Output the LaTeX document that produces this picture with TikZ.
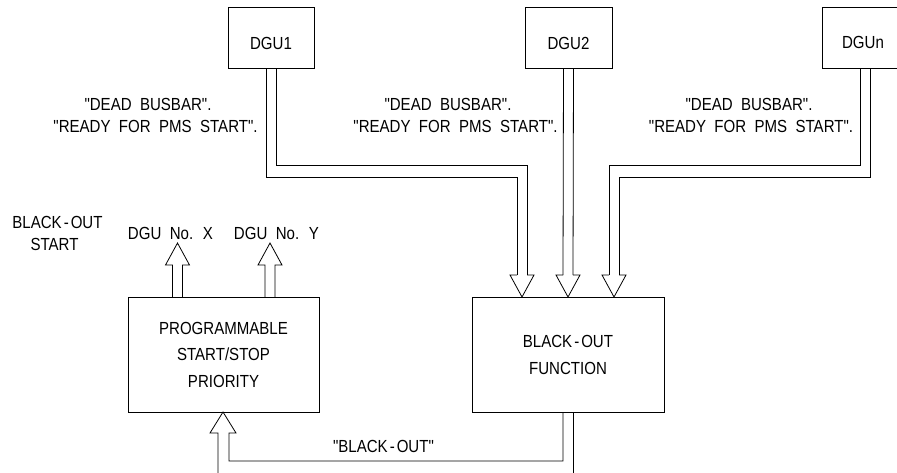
\documentclass[tikz,border=0pt]{standalone}
\usepackage{fontspec}
\setmainfont{Liberation Sans}[FakeStretch=0.86, WordSpace=2, Ligatures=TeXOff]
\newcommand\hy{\kern2pt-\kern2pt}
\begin{document}
\begin{tikzpicture}[x=1pt,y=-1pt,
  wire/.style={line width=0.8pt, line join=miter},
  box/.style={draw, line width=0.8pt, inner sep=0pt, align=center},
  txt/.style={font=\fontsize{17.5}{21}\selectfont, inner sep=0pt, anchor=base}]
\clip (0,0) rectangle (897,472);
\fill[white] (0,0) rectangle (897,472);

% boxes
\node[box, minimum width=86pt, minimum height=61pt] (dgu1) at (271,37.5) {};
\node[box, minimum width=87pt, minimum height=61pt] (dgu2) at (568.5,37.5) {};
\node[box, minimum width=86pt, minimum height=61pt] (dgun) at (865,37.5) {};
\node[txt] (t1) at (271,49.5) {DGU1};
\node[txt] (t2) at (568.5,49.5) {DGU2};
\node[txt] (tn) at (863,48.5) {DGUn};

\node[box, minimum width=191pt, minimum height=115pt,
      font=\fontsize{17.5}{26.5}\selectfont] (pss) at (223.5,354.5)
      {PROGRAMMABLE\\START/STOP\\PRIORITY};
\node[box, minimum width=192pt, minimum height=115pt,
      font=\fontsize{17.5}{27}\selectfont] (bof) at (568,354.5)
      {BLACK\hy OUT\\FUNCTION};

% labels
\node[txt] (l1a) at (148,110) {"DEAD BUSBAR".};
\node[txt] (l1b) at (155.5,132) {"READY FOR PMS START".};
\node[txt] (l2a) at (448,110) {"DEAD BUSBAR".};
\node[txt] (l2b) at (455.5,132) {"READY FOR PMS START".};
\node[txt] (l3a) at (749,110) {"DEAD BUSBAR".};
\node[txt] (l3b) at (751,132) {"READY FOR PMS START".};
\node[txt] (bs1) at (57.5,228) {BLACK\hy OUT};
\node[txt] (bs2) at (54.5,250) {START};
\node[txt] (dx) at (170.5,239) {DGU No. X};
\node[txt] (dy) at (276.5,239) {DGU No. Y};
\node[txt] (bo) at (383.5,452) {"BLACK\hy OUT"};

% DGU1 -> black-out function
\draw[wire] ([xshift=5pt]dgu1.south) |- (527,165) -- (527,275);
\draw[wire] ([xshift=-5pt]dgu1.south) |- (517,177) -- (517,275);
\draw[wire] (517,275) -- (510,275) -- (522,297) -- (534,275) -- (527,275);
% DGU2
\draw[wire] ([xshift=-5pt]dgu2.south) -- (563,275);
\draw[wire] ([xshift=5pt]dgu2.south) -- (573,275);
\draw[wire] (563,275) -- (556,275) -- (568,297) -- (580,275) -- (573,275);
% DGUn
\draw[wire] ([xshift=-5pt]dgun.south) |- (609,165) -- (609,275);
\draw[wire] ([xshift=5pt]dgun.south) |- (619,177) -- (619,275);
\draw[wire] (609,275) -- (602,275) -- (614,297) -- (626,275) -- (619,275);

% outputs of priority box
\draw[wire] (172.5,297) -- (172.5,265) -- (165.5,265) -- (177.5,243) -- (189.5,265) -- (182.5,265) -- (182.5,297);
\draw[wire] (265,297) -- (265,265) -- (258,265) -- (270,243) -- (282,265) -- (275,265) -- (275,297);

% black-out signal back to priority box
\coordinate (end1) at (218,480);
\coordinate (end2) at (573,480);
\draw[wire] ([xshift=-5pt]bof.south) |- (229,461) -- (229,433) -- (236,433) -- (223,412) -- (210,433) -- (218,433) -- (end1);
\draw[wire] ([xshift=5pt]bof.south) -- (end2);
\end{tikzpicture}
\end{document}
